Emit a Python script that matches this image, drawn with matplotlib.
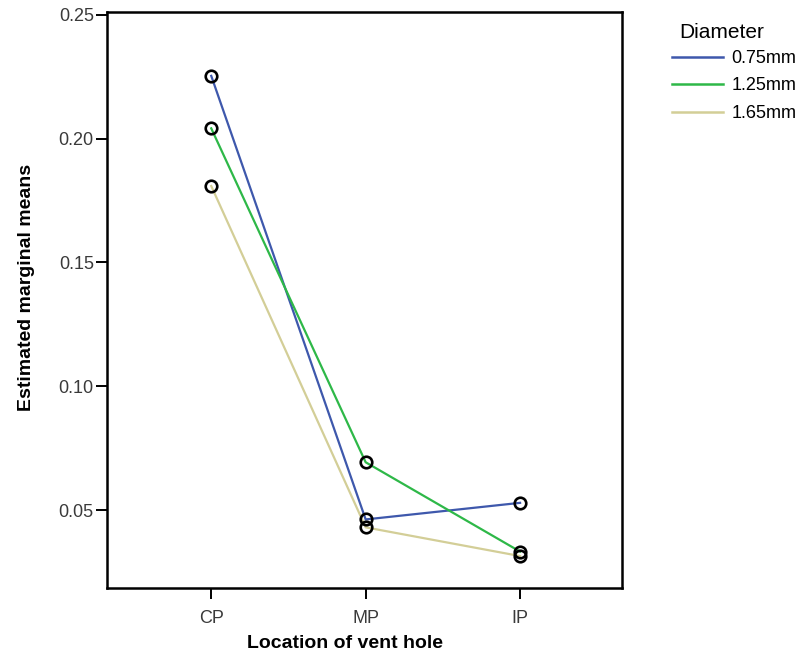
import matplotlib
matplotlib.use("Agg")
import matplotlib.pyplot as plt

locations = ["CP", "MP", "IP"]
diameters = ["0.75mm", "1.25mm", "1.65mm"]
means_075 = [0.2254, 0.0462, 0.0529]
means_125 = [0.2042, 0.0693, 0.0332]
means_165 = [0.1809, 0.0430, 0.0314]
yticks = [0.05, 0.10, 0.15, 0.20, 0.25]

series = [means_075, means_125, means_165]
colors = ["#3E58AC", "#2EB848", "#D3CE97"]

plt.rcParams['font.family'] = ['Liberation Sans', 'DejaVu Sans']

fig = plt.figure(figsize=(8.10, 6.52), dpi=100)
ax = fig.add_axes([107/810, 1-587.5/652, (622-107)/810, (587.5-12)/652])

x = list(range(len(locations)))
for vals, lab, col in zip(series, diameters, colors):
    ax.plot(x, vals, color=col, lw=1.6, label=lab, zorder=2)
    ax.plot(x, vals, ls='none', marker='o', ms=8.3, mfc='none', mec='black',
            mew=1.9, zorder=3)

ax.set_xlim(-0.675, 2.66)
ax.set_ylim(0.0187, 0.2512)
ax.set_xticks(x)
ax.set_xticklabels(locations)
ax.set_yticks(yticks)
ax.set_yticklabels([f"{v:.2f}" for v in yticks])

for s in ax.spines.values():
    s.set_linewidth(1.8)
    s.set_color('black')
ax.tick_params(direction='out', length=8, width=1.4, color='black',
               labelsize=13, labelcolor='#3a3a3a')
ax.tick_params(axis='y', pad=1.5)
ax.tick_params(axis='x', pad=8)

ax.set_xlabel("Location of vent hole", fontsize=14, fontweight='bold', va='center')
ax.xaxis.set_label_coords((345-107)/515, -(643-587.5)/575.5)
ax.set_ylabel("Estimated marginal means", fontsize=14, fontweight='bold', va='center')
ax.yaxis.set_label_coords((27-107)/515, 1-(287-12)/575.5)

fig.text(679/810, 1-32/652, "Diameter", fontsize=15, va='center', ha='left')
leg = ax.legend(loc='upper left', bbox_to_anchor=(672/810, 1-50/652),
                bbox_transform=fig.transFigure, frameon=False, fontsize=13,
                handlelength=2.8, handletextpad=0.5, labelspacing=0.58,
                borderpad=0.0, borderaxespad=0.0)
for line in leg.get_lines():
    line.set_linewidth(1.8)

fig.savefig("out.png", dpi=100, facecolor='white')
